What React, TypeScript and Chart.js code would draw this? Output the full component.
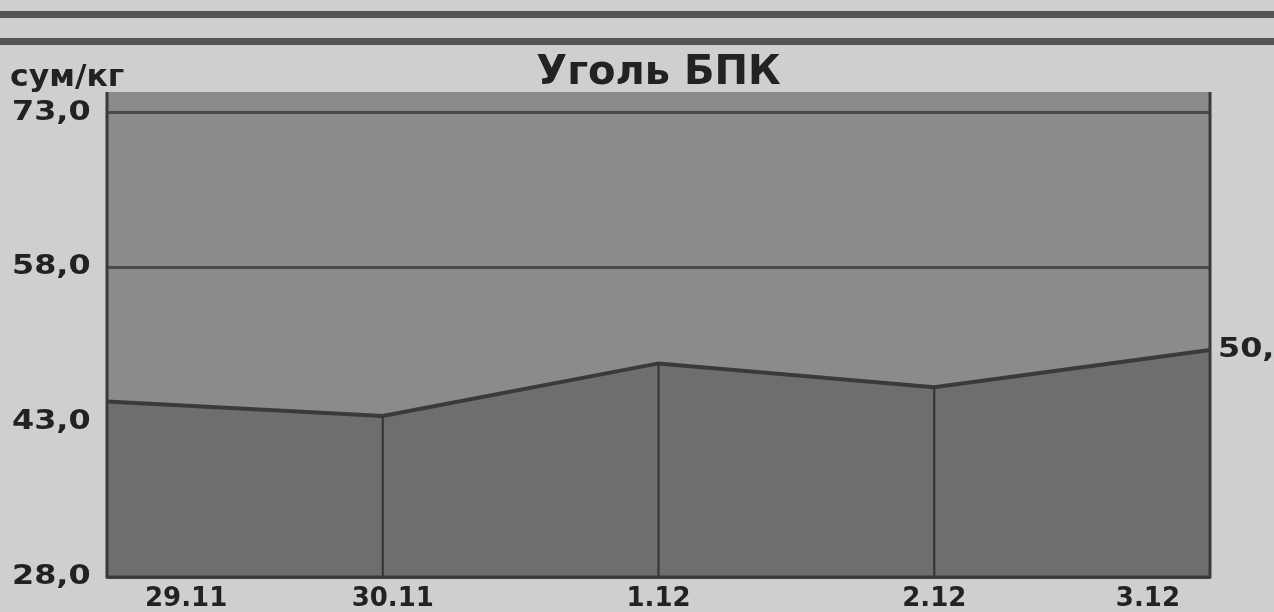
import React, { useEffect, useRef } from "react";
import { Chart, registerables } from "chart.js";

Chart.register(...registerables);

const categories = ["29.11", "30.11", "1.12", "2.12", "3.12"];
const prices = [45.0, 43.6, 48.7, 46.4, 50.0];
const yTicks = [28, 43, 58, 73];
const yTickLabels = ["28,0", "43,0", "58,0", "73,0"];
const lastValueLabel = "50,0";
const titleText = "Уголь БПК";
const unitText = "сум/кг";

const FONT = '"DejaVu Sans", "Liberation Sans", sans-serif';
const TEXT = "#222222";

function drawStretched(ctx: CanvasRenderingContext2D, text: string, x: number, y: number, sx: number, align: CanvasTextAlign) {
  ctx.save();
  ctx.translate(x, y);
  ctx.scale(sx, 1);
  ctx.textAlign = align;
  ctx.fillText(text, 0, 0);
  ctx.restore();
}

const decorPlugin = {
  id: "decor",
  beforeDraw(chart: any) {
    const { ctx, chartArea: a } = chart;
    ctx.save();
    ctx.fillStyle = "#8b8b8b";
    ctx.fillRect(a.left, a.top, a.right - a.left, a.bottom - a.top);
    ctx.restore();
  },
  afterDatasetsDraw(chart: any) {
    const { ctx, chartArea: a, scales } = chart;
    const xs = scales.x;
    const ys = scales.y;
    ctx.save();
    ctx.strokeStyle = "#333";
    ctx.lineWidth = 2;
    prices.forEach((v, i) => {
      const px = xs.getPixelForValue(i);
      const py = ys.getPixelForValue(v);
      ctx.beginPath();
      ctx.moveTo(px, py);
      ctx.lineTo(px, a.bottom);
      ctx.stroke();
    });
    ctx.lineWidth = 3;
    ctx.strokeStyle = "#3a3a3a";
    ctx.beginPath();
    ctx.moveTo(a.left, a.top);
    ctx.lineTo(a.left, a.bottom);
    ctx.lineTo(a.right, a.bottom);
    ctx.lineTo(a.right, a.top);
    ctx.stroke();

    ctx.fillStyle = TEXT;
    ctx.textBaseline = "middle";
    ctx.font = `bold 27px ${FONT}`;
    yTicks.forEach((t, i) => {
      drawStretched(ctx, yTickLabels[i], 12, ys.getPixelForValue(t), 1.18, "left");
    });
    ctx.font = `bold 30px ${FONT}`;
    drawStretched(ctx, unitText, 10, 78, 1.05, "left");
    ctx.font = `bold 40px ${FONT}`;
    drawStretched(ctx, titleText, (a.left + a.right) / 2, 74, 1.0, "center");
    ctx.font = `bold 26px ${FONT}`;
    categories.forEach((c, i) => {
      let px = xs.getPixelForValue(i);
      let align: CanvasTextAlign = "center";
      if (i === 0) { px = px + 38; align = "left"; }
      if (i === 1) { px = px + 10; }
      if (i === categories.length - 1) { px = px - 30; align = "right"; }
      drawStretched(ctx, c, px, a.bottom + 22, 1.0, align);
    });
    ctx.font = `bold 27px ${FONT}`;
    const lx = xs.getPixelForValue(prices.length - 1) + 8;
    const ly = ys.getPixelForValue(prices[prices.length - 1]);
    drawStretched(ctx, lastValueLabel, lx, ly, 1.18, "left");
    ctx.restore();
  },
};

export default function App() {
  const ref = useRef<HTMLCanvasElement | null>(null);

  useEffect(() => {
    document.body.style.margin = "0";
    const canvas = ref.current!;
    const chart = new Chart(canvas, {
      type: "line",
      data: {
        labels: categories,
        datasets: [
          {
            data: prices,
            borderColor: "#3a3a3a",
            borderWidth: 4,
            backgroundColor: "#6e6e6e",
            fill: "start",
            pointRadius: 0,
            tension: 0,
          },
        ],
      },
      options: {
        animation: false,
        responsive: false,
        maintainAspectRatio: false,
        layout: { padding: { left: 107, right: 64, top: 92, bottom: 35 } },
        plugins: { legend: { display: false }, tooltip: { enabled: false }, title: { display: false } },
        scales: {
          x: { display: false, offset: false },
          y: {
            display: true,
            min: 28,
            max: 75,
            afterBuildTicks: (s: any) => {
              s.ticks = yTicks.map((v) => ({ value: v }));
            },
            afterFit: (s: any) => {
              s.width = 0;
            },
            ticks: { display: false },
            grid: { drawTicks: false, color: "#4a4a4a", lineWidth: 3 },
            border: { display: false },
          },
        },
      },
      plugins: [decorPlugin],
    });
    return () => chart.destroy();
  }, []);

  return (
    <div style={{ position: "absolute", left: 0, top: 0, width: 1274, height: 612, background: "#cfcfcf", overflow: "hidden" }}>
      <div style={{ position: "absolute", left: 0, top: 11, width: 1274, height: 0, borderTop: "7px solid #555" }} />
      <div style={{ position: "absolute", left: 0, top: 38, width: 1274, height: 0, borderTop: "7px solid #555" }} />
      <canvas ref={ref} width={1274} height={612} style={{ position: "absolute", left: 0, top: 0 }} />
    </div>
  );
}
